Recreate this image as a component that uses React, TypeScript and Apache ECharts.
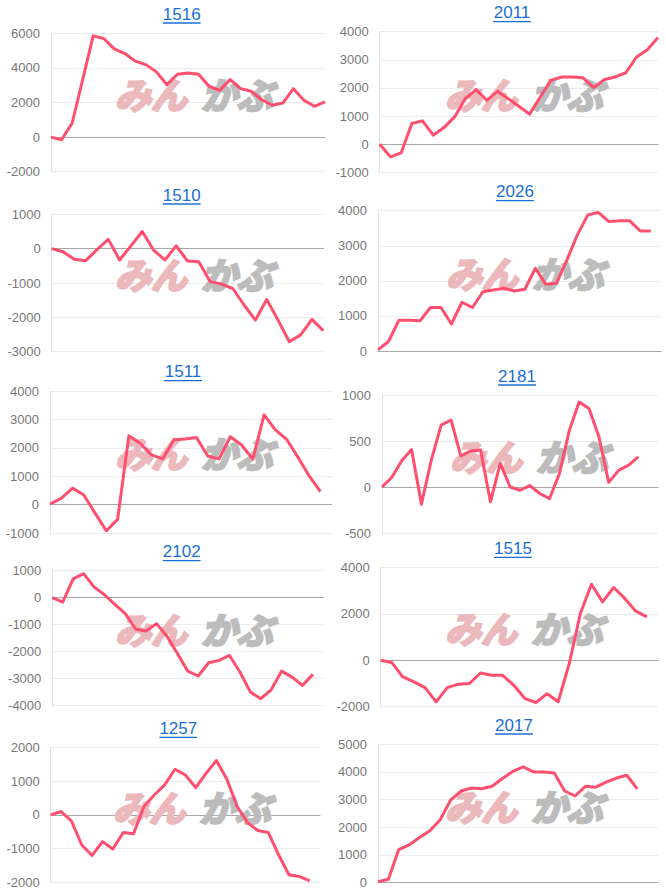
import React, { useEffect, useRef } from 'react';
import * as echarts from 'echarts';

// ---- data ----
const titles = ['1516', '2011', '1510', '2026', '1511', '2181', '2102', '1515', '1257', '2017'];

const s1516 = [0, -150, 800, 3300, 5850, 5700, 5100, 4830, 4390, 4190, 3770, 3030, 3630, 3710, 3630, 2940, 2700, 3320, 2800, 2650, 2160, 1840, 1970, 2800, 2130, 1780, 2030];
const s2011 = [0, -450, -310, 735, 830, 320, 590, 970, 1620, 1940, 1560, 1880, 1620, 1350, 1070, 1680, 2270, 2390, 2390, 2360, 2010, 2300, 2390, 2540, 3100, 3360, 3790];
const s1510 = [0, -90, -310, -350, -30, 270, -330, 80, 500, -40, -330, 80, -360, -380, -960, -1030, -1160, -1640, -2080, -1480, -2080, -2710, -2510, -2060, -2390];
const s2026 = [30, 270, 880, 880, 860, 1240, 1240, 770, 1390, 1240, 1690, 1740, 1790, 1710, 1760, 2360, 1900, 1930, 2590, 3310, 3880, 3950, 3690, 3710, 3710, 3420, 3420];
const s1511 = [20, 220, 580, 340, -300, -920, -520, 2420, 2160, 1750, 1610, 2280, 2310, 2360, 1710, 1610, 2390, 2100, 1600, 3160, 2630, 2300, 1670, 1010, 460];
const s2181 = [5, 110, 290, 410, -180, 295, 675, 730, 340, 395, 405, -155, 260, 5, -30, 20, -65, -120, 150, 615, 925, 855, 550, 55, 185, 240, 330];
const s2102 = [0, -160, 700, 890, 400, 110, -250, -590, -1170, -1230, -960, -1430, -2070, -2720, -2900, -2410, -2320, -2140, -2750, -3490, -3740, -3410, -2720, -2940, -3250, -2840];
const s1515 = [0, -100, -720, -930, -1180, -1790, -1180, -1030, -1000, -550, -650, -650, -1080, -1650, -1820, -1440, -1790, -140, 2010, 3270, 2510, 3130, 2660, 2110, 1870];
const s1257 = [0, 100, -180, -890, -1200, -790, -1010, -520, -560, 250, 590, 890, 1350, 1180, 810, 1230, 1610, 1060, 250, -230, -460, -520, -1180, -1770, -1820, -1950];
const s2017 = [25, 120, 1190, 1360, 1630, 1870, 2270, 2980, 3310, 3420, 3390, 3480, 3760, 4020, 4180, 4000, 4000, 3960, 3310, 3130, 3480, 3450, 3630, 3780, 3880, 3390];

const seriesData = [s1516, s2011, s1510, s2026, s1511, s2181, s2102, s1515, s1257, s2017];
// number of x categories on each chart's axis
const categoryCounts = [27, 27, 25, 28, 26, 29, 27, 26, 27, 28];
// y axis ranges
const yMins = [-2000, -1000, -3000, 0, -1000, -500, -4000, -2000, -2000, 0];
const yMaxs = [6000, 4000, 1000, 4000, 4000, 1000, 1000, 4000, 2000, 5000];
const yIntervals = [2000, 1000, 1000, 1000, 1000, 500, 1000, 2000, 1000, 1000];

// ---- layout (pixels) ----
const layout = [
  { l: 51, t: 33.3, r: 325, b: 171.7, tx: 181.7, ty: 14, wx: 115, wy: 93 },
  { l: 379.7, t: 31.7, r: 658, b: 172.3, tx: 512, ty: 12.7, wx: 445, wy: 93 },
  { l: 51.7, t: 214.3, r: 323.3, b: 351.7, tx: 181.7, ty: 195, wx: 115, wy: 273 },
  { l: 378, t: 210.7, r: 661.3, b: 351, tx: 515, ty: 191.7, wx: 446, wy: 272 },
  { l: 50, t: 391, r: 331.7, b: 533, tx: 183, ty: 371.7, wx: 115, wy: 452 },
  { l: 382, t: 395, r: 658, b: 533.7, tx: 517, ty: 376, wx: 450, wy: 455 },
  { l: 52.3, t: 570.7, r: 323.3, b: 705.7, tx: 181.7, ty: 551.7, wx: 115, wy: 628 },
  { l: 380.7, t: 567.3, r: 658, b: 706.7, tx: 513, ty: 548.3, wx: 445, wy: 627 },
  { l: 50.7, t: 747.3, r: 320, b: 882.7, tx: 178.3, ty: 728.3, wx: 113, wy: 806 },
  { l: 378, t: 744.3, r: 658, b: 884, tx: 514, ty: 725, wx: 445, wy: 805 },
];

const LINE_COLOR = '#ff4f6f';
const TITLE_COLOR = '#1a6fd6';
const FONT = 'Arial, "Liberation Sans", sans-serif';
const WM_FONT = '"Noto Sans CJK JP", sans-serif';

export default function App() {
  const ref = useRef<HTMLDivElement>(null);
  useEffect(() => {
    document.body.style.margin = '0';
    const chart = echarts.init(ref.current!, null, { renderer: 'svg' });

    const grid: any[] = [];
    const xAxis: any[] = [];
    const yAxis: any[] = [];
    const series: any[] = [];
    const graphic: any[] = [];

    const wmText = (text: string, x: number, y: number, color: string) => ({
      type: 'text',
      x,
      y,
      z: 1,
      silent: true,
      style: {
        text,
        fill: color,
        stroke: color,
        lineWidth: 2.6,
        fontSize: 36,
        fontWeight: 'bold',
        fontStyle: 'italic',
        fontFamily: WM_FONT,
        align: 'left',
        verticalAlign: 'middle',
        textAlign: 'left',
        textVerticalAlign: 'middle',
      },
    });

    layout.forEach((p, i) => {
      grid.push({ left: p.l, top: p.t, width: p.r - p.l, height: p.b - p.t, containLabel: false });
      const cats = Array.from({ length: categoryCounts[i] }, (_, k) => String(k + 1));
      xAxis.push({
        gridIndex: i,
        type: 'category',
        boundaryGap: false,
        data: cats,
        axisLabel: { show: false },
        axisTick: { show: false },
        axisLine: { show: true, onZero: true, lineStyle: { color: '#a8a8a8', width: 1 } },
        splitLine: { show: false },
      });
      yAxis.push({
        gridIndex: i,
        type: 'value',
        min: yMins[i],
        max: yMaxs[i],
        interval: yIntervals[i],
        axisLabel: {
          fontSize: 13,
          color: '#777777',
          margin: 11,
          fontFamily: FONT,
          formatter: (v: number) => String(v),
        },
        axisTick: { show: false },
        axisLine: { show: true, lineStyle: { color: '#e2e2e2' } },
        splitLine: { show: true, lineStyle: { color: '#ebebeb' } },
      });
      series.push({
        type: 'line',
        xAxisIndex: i,
        yAxisIndex: i,
        data: seriesData[i],
        symbol: 'none',
        z: 5,
        lineStyle: { color: LINE_COLOR, width: 3, join: 'round' },
      });

      const fs = 17;
      const w = titles[i].length * 0.556 * fs;
      graphic.push({
        type: 'text',
        x: p.tx,
        y: p.ty,
        z: 10,
        style: {
          text: titles[i],
          fill: TITLE_COLOR,
          fontSize: fs,
          fontFamily: FONT,
          align: 'center',
          verticalAlign: 'middle',
          textAlign: 'center',
          textVerticalAlign: 'middle',
        },
      });
      graphic.push({
        type: 'line',
        z: 10,
        shape: { x1: p.tx - w / 2, y1: p.ty + 9, x2: p.tx + w / 2, y2: p.ty + 9 },
        style: { stroke: TITLE_COLOR, lineWidth: 1.3 },
      });
      graphic.push(wmText('みん', p.wx, p.wy, '#ebb9bb'));
      graphic.push(wmText('かぶ', p.wx + 86, p.wy, '#bcbcbc'));
    });

    chart.setOption({
      animation: false,
      backgroundColor: '#ffffff',
      grid,
      xAxis,
      yAxis,
      series,
      graphic,
    });
    return () => chart.dispose();
  }, []);
  return <div ref={ref} style={{ width: 666, height: 889 }} />;
}
